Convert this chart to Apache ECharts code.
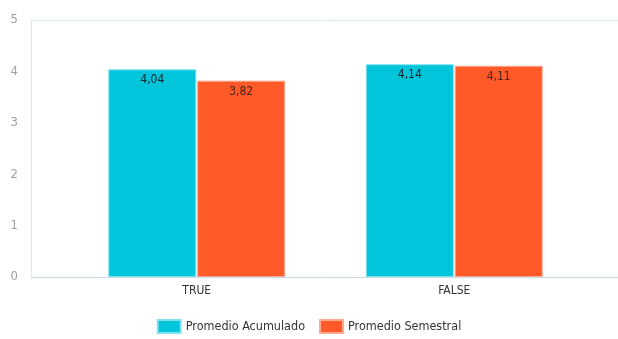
<!DOCTYPE html>
<html>
<head>
<meta charset="utf-8">
<script src="https://cdn.jsdelivr.net/npm/echarts@6/dist/echarts.min.js"></script>
<style>
  html, body { margin: 0; padding: 0; background: #fff; }
  #chart { width: 618px; height: 339px; }
</style>
</head>
<body>
<div id="chart"></div>
<script>
// Categories and series
var categories = ['TRUE', 'FALSE'];
var promedioAcumulado = [4.04, 4.14];
var promedioSemestral = [3.82, 4.11];
var yTicks = [0, 1, 2, 3, 4, 5];

var FONT = '"Liberation Sans Narrow", "DejaVu Sans Condensed", Roboto, sans-serif';
var FRAME = '#d6e9fb';

function fmt(v) {
  return v.toFixed(2).replace('.', ',');
}

var chart = echarts.init(document.getElementById('chart'), null, { renderer: 'canvas' });

chart.setOption({
  animation: false,
  backgroundColor: '#ffffff',
  legend: {
    bottom: 0,
    left: 'center',
    icon: 'rect',
    itemWidth: 23,
    itemHeight: 13,
    itemGap: 14,
    textStyle: { fontFamily: FONT, fontSize: 12.5, color: '#333' },
    data: ['Promedio Acumulado', 'Promedio Semestral']
  },
  grid: [
    // frame grid carrying the value axis
    { left: 31, right: 0, top: 20, bottom: 62 },
    // bar grid
    { left: 68, right: 35, top: 20, bottom: 62 }
  ],
  xAxis: [
    {
      gridIndex: 0, type: 'value', min: 0, max: 1, position: 'bottom',
      axisLine: { show: true, lineStyle: { color: '#c8d8e8', width: 1 } },
      axisTick: { show: false }, axisLabel: { show: false }, splitLine: { show: false }
    },
    {
      gridIndex: 0, type: 'value', min: 0, max: 1, position: 'top',
      axisLine: { show: true, lineStyle: { color: FRAME, width: 1 } },
      axisTick: { show: false }, axisLabel: { show: false }, splitLine: { show: false }
    },
    {
      gridIndex: 1, type: 'category', data: categories,
      axisLine: { show: false }, axisTick: { show: false },
      axisLabel: { fontFamily: FONT, fontSize: 12, color: '#333', margin: 8 }
    }
  ],
  yAxis: [
    {
      gridIndex: 0, type: 'value', min: 0, max: 5, interval: 1,
      axisLine: { show: true, lineStyle: { color: FRAME, width: 1 } },
      axisTick: { show: false },
      splitLine: { show: false },
      axisLabel: { fontFamily: FONT, fontSize: 13, color: '#a0a0a0', margin: 13,
        formatter: function (v) { return yTicks.indexOf(v) >= 0 ? String(v) : ''; } }
    },
    {
      gridIndex: 1, type: 'value', min: 0, max: 5, interval: 1, show: false
    }
  ],
  series: [
    {
      name: 'Promedio Acumulado', type: 'bar', xAxisIndex: 2, yAxisIndex: 1,
      data: promedioAcumulado, barWidth: 88, barGap: '1%',
      itemStyle: { color: '#00c5db', borderColor: '#7fe2ee', borderWidth: 1 },
      label: { show: true, position: 'insideTop', distance: 5, formatter: function (p) { return fmt(p.value); },
        fontFamily: FONT, fontSize: 12, color: '#10232a' }
    },
    {
      name: 'Promedio Semestral', type: 'bar', xAxisIndex: 2, yAxisIndex: 1,
      data: promedioSemestral, barWidth: 88, barGap: '1%',
      itemStyle: { color: '#ff5a28', borderColor: '#ffa98f', borderWidth: 1 },
      label: { show: true, position: 'insideTop', distance: 5, formatter: function (p) { return fmt(p.value); },
        fontFamily: FONT, fontSize: 12, color: '#4a2418' }
    }
  ]
});
</script>
</body>
</html>
